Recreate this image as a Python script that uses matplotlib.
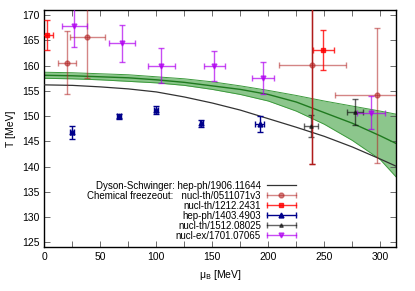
import numpy as np
import matplotlib
matplotlib.use("Agg")
import matplotlib.pyplot as plt
from matplotlib.lines import Line2D
from matplotlib.legend_handler import HandlerLine2D

plt.rcParams["font.family"] = ["Liberation Sans", "DejaVu Sans"]

# Dyson-Schwinger crossover line
ds_mu = [0, 25, 50, 75, 100, 125, 150, 175, 200, 225, 250, 275, 300, 314]
ds_T = [156.2, 156.1, 155.8, 155.4, 154.8, 153.8, 152.6, 151.2, 149.5, 147.8, 146.0, 143.9, 141.5, 140.1]

# lattice band
band_mu = [0, 25, 50, 75, 100, 125, 150, 175, 200, 225, 250, 275, 300, 314]
band_mid = [158.1, 158.0, 157.8, 157.6, 157.2, 156.7, 156.0, 155.3, 154.3, 152.8, 150.7, 148.6, 146.1, 144.6]
band_hi = [158.7, 158.6, 158.4, 158.2, 157.8, 157.4, 156.8, 156.0, 155.1, 154.1, 153.0, 152.0, 151.0, 150.4]
band_lo = [157.5, 157.4, 157.2, 156.9, 156.6, 156.1, 155.3, 154.3, 153.0, 151.0, 148.4, 145.2, 141.4, 138.0]

# freezeout points: mu, T, mu err, T err
cl_mu = [20.0, 38.2, 239.2, 297.3]
cl_T = [160.6, 165.6, 160.1, 154.1]
cl_dmu = [8.0, 15.6, 30.0, 38.0]
cl_dT = [6.3, 8.0, 19.6, 13.3]

rd_mu = [2.0, 249.3]
rd_T = [166.1, 163.1]
rd_dmu = [6.0, 9.0]
rd_dT = [3.0, 4.0]

bl_mu = [24.5, 66.5, 99.8, 140.3, 192.2]
bl_T = [146.8, 150.0, 151.3, 148.6, 148.5]
bl_dmu = [1.5, 1.5, 1.5, 1.5, 4.3]
bl_dT = [1.25, 0.5, 0.8, 0.7, 1.6]

bk_mu = [238.3, 277.4]
bk_T = [148.1, 150.8]
bk_dmu = [6.4, 6.9]
bk_dT = [2.15, 2.55]

mg_mu = [26.8, 69.2, 104.6, 151.7, 195.2, 291.7]
mg_T = [167.8, 164.4, 160.0, 159.9, 157.6, 150.7]
mg_dmu = [11.3, 11.5, 11.7, 9.4, 9.7, 12.7]
mg_dT = [4.1, 3.6, 3.5, 3.0, 3.2, 3.2]

labels = ["Dyson-Schwinger: hep-ph/1906.11644",
          "Chemical freezeout:   nucl-th/0511071v3",
          "nucl-th/1212.2431",
          "hep-ph/1403.4903",
          "nucl-th/1512.08025",
          "nucl-ex/1701.07065"]

fig = plt.figure(figsize=(4.15, 2.91), dpi=100)
ax = fig.add_axes([0.107, 0.150, 0.847, 0.815])

ax.fill_between(band_mu, band_lo, band_hi, color="#8cc68c", lw=0, zorder=1)
ax.plot(band_mu, band_hi, color="#3c9a3c", lw=0.7, zorder=2)
ax.plot(band_mu, band_lo, color="#3c9a3c", lw=0.7, zorder=2)
ax.plot(band_mu, band_mid, color="#1f7a1f", lw=1.0, zorder=2)
ax.plot(ds_mu, ds_T, color="#333333", lw=0.9, zorder=3)

sets = [
    (cl_mu, cl_T, cl_dmu, cl_dT, "#b22222", "o", 3.5, 0.55),
    (rd_mu, rd_T, rd_dmu, rd_dT, "#ff0000", "s", 2.5, 0.8),
    (bl_mu, bl_T, bl_dmu, bl_dT, "#00008b", "^", 3.5, 1.0),
    (bk_mu, bk_T, bk_dmu, bk_dT, "#111111", "^", 2.5, 0.65),
    (mg_mu, mg_T, mg_dmu, mg_dT, "#b000f0", "v", 3.5, 0.7),
]
handles = [Line2D([], [], color="#333333", lw=0.9)]
hmap = {}
for mu, T, dmu, dT, c, m, ms, a in sets:
    ax.errorbar(mu, T, xerr=dmu, yerr=dT, fmt=m, color=c, ms=ms, alpha=a,
                elinewidth=1.0, capsize=2, capthick=1.0, zorder=4)
    caps = Line2D([], [], color=c, alpha=a, lw=1.0, marker="|", ms=4, mew=1.0)
    mark = Line2D([], [], color=c, alpha=a, ls="none", marker=m, ms=ms)
    hmap[caps] = HandlerLine2D(numpoints=2, marker_pad=0.0)
    hmap[mark] = HandlerLine2D(numpoints=1)
    handles.append((caps, mark))

# the vertical bar of the third freezeout point shows up darker
ax.errorbar(cl_mu[2], cl_T[2], yerr=cl_dT[2], fmt="none", ecolor="#b01c1c",
            elinewidth=1.0, capsize=2, capthick=1.0, zorder=4)

ax.legend(handles, labels, handler_map=hmap, loc="lower right",
          bbox_to_anchor=(0.735, 0.0), frameon=False, markerfirst=False,
          fontsize=7, labelspacing=0.0, handlelength=3.0, handletextpad=0.6,
          borderpad=0.2)

ax.set_xlim(0, 314)
ax.set_ylim(124, 171)
ax.set_xticks(np.arange(0, 301, 50))
ax.set_xticks(np.arange(25, 314, 50), minor=True)
ax.set_yticks(np.arange(125, 171, 5))
ax.tick_params(which="both", direction="in", top=True, right=True,
               length=4, width=0.6, labelsize=7.5, color="#555555")
for s in ax.spines.values():
    s.set_linewidth(1.0)
ax.set_xlabel("μ$_{\\rm B}$ [MeV]", fontsize=7.5)
ax.set_ylabel("T [MeV]", fontsize=7.5)

fig.savefig("out.png", dpi=100)
